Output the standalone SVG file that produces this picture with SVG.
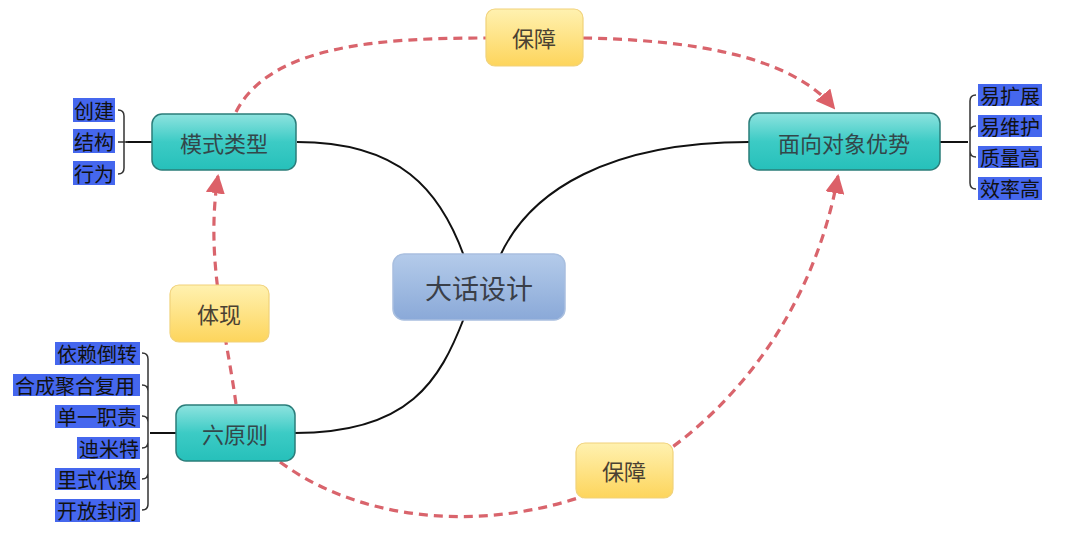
<svg xmlns="http://www.w3.org/2000/svg" width="1076" height="560" viewBox="0 0 1076 560">
<defs>
<linearGradient id="gTeal" x1="0" y1="0" x2="0" y2="1"><stop offset="0" stop-color="#8ee3df"/><stop offset="0.5" stop-color="#3ccbc5"/><stop offset="1" stop-color="#26c0ba"/></linearGradient>
<linearGradient id="gBlue" x1="0" y1="0" x2="0" y2="1"><stop offset="0" stop-color="#b4cbea"/><stop offset="1" stop-color="#8aa9d8"/></linearGradient>
<linearGradient id="gYel" x1="0" y1="0" x2="0" y2="1"><stop offset="0" stop-color="#fff1b0"/><stop offset="1" stop-color="#fdd55c"/></linearGradient>
<marker id="arr" viewBox="0 0 10 10" refX="9" refY="5" markerWidth="6" markerHeight="6" markerUnits="strokeWidth" orient="auto"><path d="M0,0 L10,5 L0,10 z" fill="#dc6068"/></marker>
<style>
.teal{fill:url(#gTeal);stroke:#2b7d7a;stroke-width:1.5}
.blue{fill:url(#gBlue);stroke:#a9bfdf;stroke-width:1.5}
.yel{fill:url(#gYel);stroke:#f1d27a;stroke-width:1.2}
.nt{font-family:"Noto Sans CJK SC",sans-serif;font-size:22px;fill:#33474a;text-anchor:middle;dominant-baseline:central}
.ct{font-family:"Noto Sans CJK SC",sans-serif;font-size:27px;fill:#3a3f48;text-anchor:middle;dominant-baseline:central}
.yt{font-family:"Noto Sans CJK SC",sans-serif;font-size:22px;fill:#4a4132;text-anchor:middle;dominant-baseline:central}
.lab{fill:#4567ee}
.lt{font-family:"Noto Sans CJK SC",sans-serif;font-size:20px;fill:#111;dominant-baseline:central}
.solid{fill:none;stroke:#111;stroke-width:2}
.br{fill:none;stroke:#333;stroke-width:1.5}
.dash{fill:none;stroke:#d9646c;stroke-width:3.2;stroke-dasharray:9 6}
</style>
</defs>
<g id="connectors">
<path class="solid" d="M297,142 C400,142 440,190 464,256"/>
<path class="solid" d="M749,142 C610,142 530,190 500,256"/>
<path class="solid" d="M295,433 C410,433 440,380 464,318"/>
<path class="dash" d="M236,112 C270,45 380,38 486,38"/>
<path class="dash" d="M583,38 C690,40 790,55 834,108" marker-end="url(#arr)"/>
<path class="dash" d="M236,404 C226,330 205,260 218,176" marker-end="url(#arr)"/>
<path class="dash" d="M280,462 C370,528 500,530 600,490 C710,440 810,330 838,176" marker-end="url(#arr)"/>
<path class="solid" d="M126,142 H152"/>
<path class="br" d="M118,110 Q124,110 124,116 V168 Q124,174 118,174 M124,142 H128 M118,142 H124"/>
<path class="solid" d="M150,433 H176"/>
<path class="br" d="M142,353 Q148,353 148,359 V504 Q148,510 142,510 M142,385 Q148,385 148,391 M142,416 Q148,416 148,422 M142,448 Q148,448 148,442 M142,479 Q148,479 148,473"/>
<path class="solid" d="M940,142 H968"/>
<path class="br" d="M976,95 Q970,95 970,101 V183 Q970,189 976,189 M976,126 Q970,126 970,132 M976,157 Q970,157 970,151"/>
</g>
<g id="n-center"><rect class="blue" x="393" y="254" width="172" height="66" rx="11"/><text class="ct" x="479" y="287">大话设计</text></g>
<g id="n-moshi"><rect class="teal" x="152" y="114" width="144" height="56" rx="10"/><text class="nt" x="224" y="142">模式类型</text></g>
<g id="n-mianxiang"><rect class="teal" x="749" y="113" width="191" height="57" rx="10"/><text class="nt" x="844" y="142">面向对象优势</text></g>
<g id="n-liu"><rect class="teal" x="176" y="405" width="119" height="56" rx="10"/><text class="nt" x="235" y="433">六原则</text></g>
<g id="n-tixian"><rect class="yel" x="170" y="285" width="99" height="57" rx="9"/><text class="yt" x="219" y="313">体现</text></g>
<g id="n-baozhang1"><rect class="yel" x="486" y="9" width="97" height="57" rx="9"/><text class="yt" x="534" y="37">保障</text></g>
<g id="n-baozhang2"><rect class="yel" x="576" y="443" width="97" height="55" rx="9"/><text class="yt" x="624" y="470">保障</text></g>
<g id="labels-left-top">
<rect class="lab" x="73" y="98" width="42" height="24"/><text class="lt" x="74" y="110">创建</text>
<rect class="lab" x="73" y="129" width="42" height="24"/><text class="lt" x="74" y="141">结构</text>
<rect class="lab" x="73" y="161" width="42" height="24"/><text class="lt" x="74" y="173">行为</text>
</g>
<g id="labels-left-bottom">
<rect class="lab" x="55" y="342" width="85" height="23"/><text class="lt" x="57" y="353">依赖倒转</text>
<rect class="lab" x="13" y="374" width="127" height="22"/><text class="lt" x="15" y="385">合成聚合复用</text>
<rect class="lab" x="55" y="405" width="85" height="23"/><text class="lt" x="57" y="416">单一职责</text>
<rect class="lab" x="77" y="437" width="63" height="22"/><text class="lt" x="79" y="448">迪米特</text>
<rect class="lab" x="55" y="468" width="85" height="22"/><text class="lt" x="57" y="479">里式代换</text>
<rect class="lab" x="55" y="499" width="85" height="23"/><text class="lt" x="57" y="510">开放封闭</text>
</g>
<g id="labels-right">
<rect class="lab" x="978" y="84" width="64" height="22"/><text class="lt" x="980" y="95">易扩展</text>
<rect class="lab" x="978" y="115" width="64" height="22"/><text class="lt" x="980" y="126">易维护</text>
<rect class="lab" x="978" y="146" width="64" height="22"/><text class="lt" x="980" y="157">质量高</text>
<rect class="lab" x="978" y="177" width="64" height="23"/><text class="lt" x="980" y="188">效率高</text>
</g>
</svg>
